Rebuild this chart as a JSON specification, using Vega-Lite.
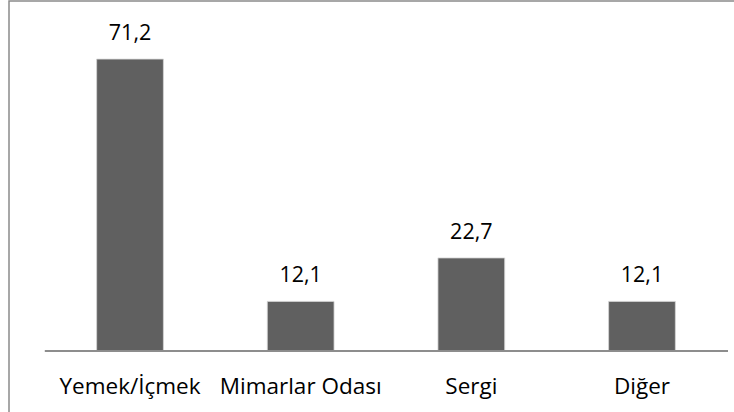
{
  "$schema": "https://vega.github.io/schema/vega-lite/v6.json",
  "width": 754,
  "height": 420,
  "padding": {"left": 9, "top": 1, "right": 0, "bottom": 0},
  "background": "white",
  "config": {
    "view": {"stroke": "#8a8a8a", "strokeWidth": 1.5},
    "locale": {"number": {"decimal": ",", "thousands": ".", "grouping": [3], "currency": ["", ""]}},
    "font": "Open Sans"
  },
  "data": {"values": [
    {"kategori": "Yemek/İçmek", "deger": 71.2},
    {"kategori": "Mimarlar Odası", "deger": 12.1},
    {"kategori": "Sergi", "deger": 22.7},
    {"kategori": "Diğer", "deger": 12.1}
  ]},
  "encoding": {
    "x": {
      "field": "kategori", "type": "nominal", "sort": null,
      "scale": {"paddingInner": 0.609, "paddingOuter": 0.5136},
      "axis": {"title": null, "domain": false, "ticks": false, "labelPadding": 0, "labelBaseline": "alphabetic", "offset": -28, "labelAngle": 0, "labelFontSize": 22.5, "labelColor": "#000000", "labelFont": "Open Sans"}
    },
    "y": {
      "field": "deger", "type": "quantitative",
      "scale": {"domain": [-17.07, 85.37], "nice": false, "zero": false},
      "axis": null
    }
  },
  "layer": [
    {
      "mark": {"type": "bar", "color": "#606060", "stroke": "#d4d4d4", "strokeWidth": 1, "strokeOpacity": 0.8},
      "encoding": {"y2": {"datum": 0}}
    },
    {
      "mark": {"type": "rule", "color": "#8c8c8c", "strokeWidth": 1.5},
      "encoding": {
        "x": {"datum": "Yemek/İçmek", "bandPosition": -0.775},
        "x2": {"datum": "Diğer", "bandPosition": 1.787},
        "y": {"datum": 0}
      }
    },
    {
      "mark": {"type": "text", "baseline": "alphabetic", "dy": -19, "fontSize": 21.5, "color": "#000000", "font": "Open Sans"},
      "encoding": {"text": {"field": "deger", "type": "quantitative", "format": ".1f"}}
    }
  ]
}
